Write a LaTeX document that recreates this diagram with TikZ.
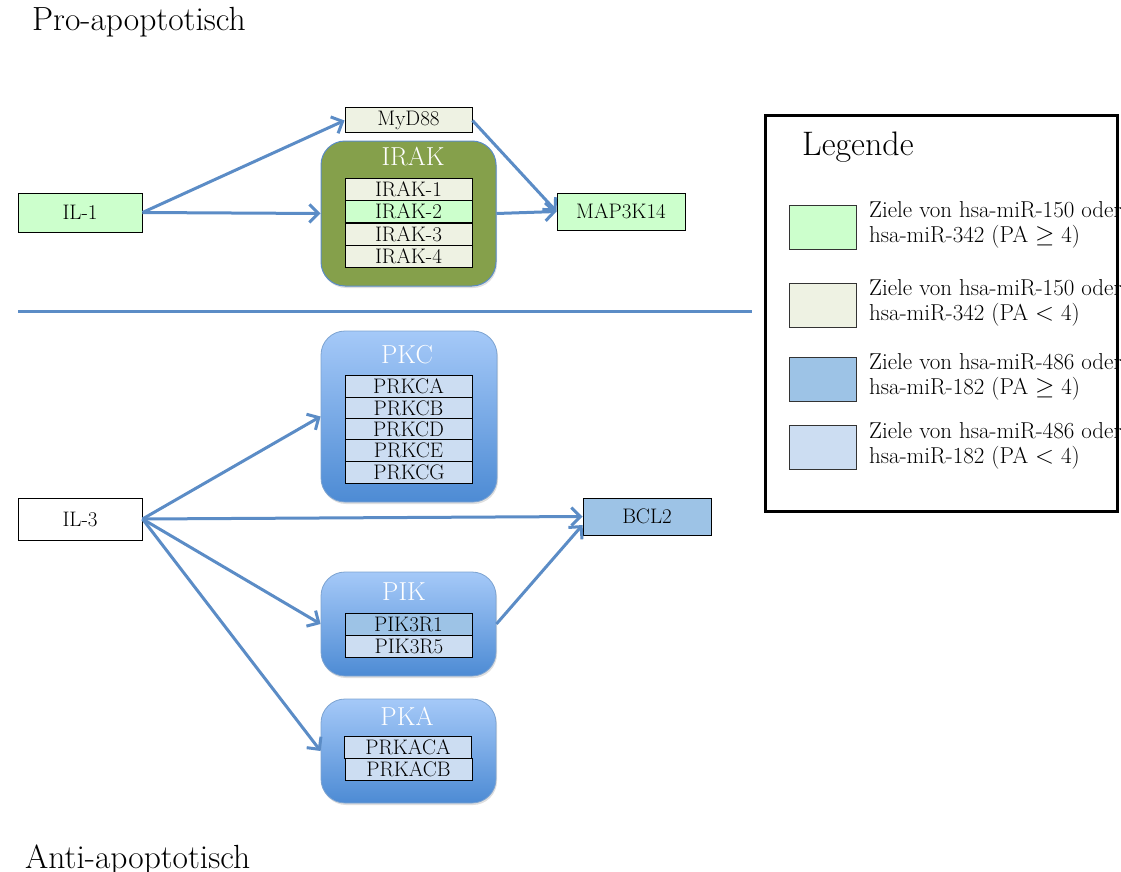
\documentclass[tikz,border=0pt]{standalone}
\usetikzlibrary{arrows.meta,shadows}
\definecolor{lgreen}{HTML}{CCFFCC}
\definecolor{ivory}{HTML}{EEF2E3}
\definecolor{mblue}{HTML}{9DC3E6}
\definecolor{lblue}{HTML}{CCDDF2}
\definecolor{olive}{HTML}{85A04B}
\definecolor{link}{HTML}{5B8CC6}
\definecolor{gtop}{HTML}{A5C9F8}
\definecolor{gbot}{HTML}{4D8BD4}
\tikzset{
  box/.style={draw=black, line width=1pt, minimum width=124pt, minimum height=39pt, inner sep=0pt, font=\fontsize{21}{24}\selectfont},
  gene/.style={draw=black, line width=1pt, minimum width=127pt, minimum height=22pt, inner sep=0pt, font=\fontsize{21}{24}\selectfont},
  bluegrp/.style={draw=link!80, line width=0.8pt, rounded corners=24pt, top color=gtop, bottom color=gbot, drop shadow={opacity=0.25, shadow xshift=1pt, shadow yshift=-2pt}},
  irakgrp/.style={draw=link, line width=1pt, rounded corners=24pt, fill=olive, drop shadow={opacity=0.25, shadow xshift=1pt, shadow yshift=-2pt}},
  grptitle/.style={text=white, font=\fontsize{26}{29}\selectfont, inner sep=0pt},
  conn/.style={draw=link, line width=3pt, -{Straight Barb[length=9pt, width=18pt, line width=3pt]}},
  title/.style={font=\fontsize{33.5}{37}\selectfont, inner sep=0pt, anchor=base west},
  legtext/.style={font=\fontsize{23}{25}\selectfont, inner sep=0pt, anchor=north west, align=left},
  swatch/.style={draw=black!80, line width=1pt, minimum width=67pt, minimum height=44pt, inner sep=0pt}
}
\begin{document}
\begin{tikzpicture}[x=1pt, y=-1pt]
\useasboundingbox (0,0) rectangle (1121,872);
\clip (0,0) rectangle (1121,872);

% titles
\node[title] (pro) at (32,31) {Pro-apoptotisch};
\node[title] (anti) at (25,868) {Anti-apoptotisch};

% separator
\coordinate (sepL) at (18,311);
\coordinate (sepR) at (752,311);
\draw[link, line width=3pt] (sepL) -- (sepR);

% upper part
\node[box, fill=lgreen] (il1) at (80,212.5) {IL-1};
\node[gene, fill=ivory, minimum height=25pt] (myd) at (408.5,120.5) {MyD88};
\node[irakgrp, minimum width=175pt, minimum height=145pt] (irak) at (408.5,213.5) {};
\node[grptitle] (iraktitle) at (413,157) {IRAK};
\node[gene, fill=ivory] (irak1) at (408.5,189) {IRAK-1};
\node[gene, fill=lgreen] (irak2) at (408.5,211.5) {IRAK-2};
\node[gene, fill=ivory] (irak3) at (408.5,234) {IRAK-3};
\node[gene, fill=ivory] (irak4) at (408.5,256) {IRAK-4};
\node[box, fill=lgreen, minimum width=128pt, minimum height=37pt] (map) at (621,211.5) {MAP3K14};

\draw[conn] (il1.east) -- (myd.west);
\draw[conn] (il1.east) -- (irak.west);
\draw[conn] (myd.east) -- (map.west);
\draw[conn] (irak.east) -- (map.west);

% lower part
\node[box, fill=white, minimum height=42pt] (il3) at (80,519) {IL-3};
\node[box, fill=mblue, minimum width=128pt, minimum height=37pt] (bcl2) at (647,516.5) {BCL2};

\node[bluegrp, minimum width=176pt, minimum height=171pt] (pkc) at (409,416.5) {};
\node[grptitle] (pkctitle) at (407,355) {PKC};
\node[gene, fill=lblue] (prkca) at (408.5,386) {PRKCA};
\node[gene, fill=lblue] (prkcb) at (408.5,408) {PRKCB};
\node[gene, fill=lblue] (prkcd) at (408.5,429.5) {PRKCD};
\node[gene, fill=lblue] (prkce) at (408.5,450.5) {PRKCE};
\node[gene, fill=lblue] (prkcg) at (409,472) {PRKCG};

\node[bluegrp, minimum width=175pt, minimum height=104pt] (pik) at (408.5,624) {};
\node[grptitle] (piktitle) at (404,592) {PIK};
\node[gene, fill=mblue] (pik1) at (408.5,624) {PIK3R1};
\node[gene, fill=lblue] (pik5) at (409,646) {PIK3R5};

\node[bluegrp, minimum width=175pt, minimum height=104pt] (pka) at (408.5,751) {};
\node[grptitle] (pkatitle) at (407,716) {PKA};
\node[gene, fill=lblue] (prkaca) at (408,747) {PRKACA};
\node[gene, fill=lblue] (prkacb) at (408.5,769) {PRKACB};

\draw[conn] (il3.east) -- (pkc.west);
\draw[conn] (il3.east) -- (bcl2.west);
\draw[conn] (il3.east) -- (pik.west);
\draw[conn] (il3.east) -- (pka.west);
\draw[conn] (pik.east) -- ([yshift=-8.5pt]bcl2.west);

% legend
\node[draw=black, line width=3pt, minimum width=352pt, minimum height=396pt, inner sep=0pt] (legend) at (941.5,313.5) {};
\node[font=\fontsize{34}{37}\selectfont, inner sep=0pt, anchor=base west] (legtitle) at (802,155) {Legende};
\node[swatch, fill=lgreen] (sw1) at (822.5,227) {};
\node[swatch, fill=ivory] (sw2) at (822.5,305) {};
\node[swatch, fill=mblue] (sw3) at (822.5,379) {};
\node[swatch, fill=lblue] (sw4) at (822.5,447.5) {};
\node[legtext] (lt1) at (869,201) {Ziele von hsa-miR-150 oder\\hsa-miR-342 (PA $\geq$ 4)};
\node[legtext] (lt2) at (869,279) {Ziele von hsa-miR-150 oder\\hsa-miR-342 (PA $<$ 4)};
\node[legtext] (lt3) at (869,353) {Ziele von hsa-miR-486 oder\\hsa-miR-182 (PA $\geq$ 4)};
\node[legtext] (lt4) at (869,422) {Ziele von hsa-miR-486 oder\\hsa-miR-182 (PA $<$ 4)};
\end{tikzpicture}
\end{document}
